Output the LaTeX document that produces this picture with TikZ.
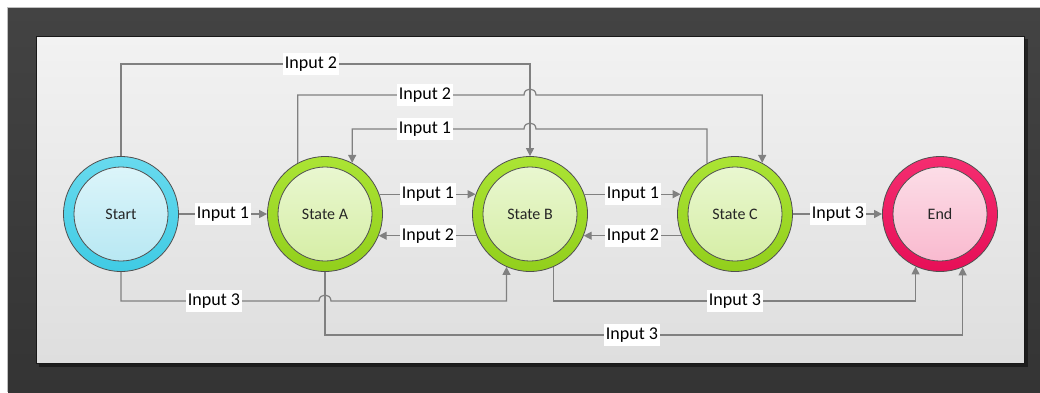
\documentclass[tikz,border=0pt]{standalone}
\usepackage{fontspec}
\setmainfont{Carlito}
\usetikzlibrary{arrows.meta}

\definecolor{frameT}{HTML}{434343}
\definecolor{frameB}{HTML}{343434}
\definecolor{panelT}{HTML}{F2F2F2}
\definecolor{panelB}{HTML}{DEDEDE}
\definecolor{wire}{HTML}{808080}
\definecolor{rim}{HTML}{505050}
\definecolor{cyanT}{HTML}{68DAEE}
\definecolor{cyanB}{HTML}{40CBE4}
\definecolor{cyanInT}{HTML}{DCF5FA}
\definecolor{cyanInB}{HTML}{B8E8F3}
\definecolor{greenT}{HTML}{ABE434}
\definecolor{greenB}{HTML}{92CF1C}
\definecolor{greenInT}{HTML}{E9F7D0}
\definecolor{greenInB}{HTML}{D6EEA6}
\definecolor{redT}{HTML}{F52D70}
\definecolor{redB}{HTML}{E60F57}
\definecolor{pinkInT}{HTML}{FCDDE7}
\definecolor{pinkInB}{HTML}{F9BACF}

\tikzset{
  ring/.style={circle, draw=rim, line width=0.8pt, minimum size=115pt, inner sep=0pt},
  core/.style={circle, draw=rim, line width=0.8pt, minimum size=94pt, inner sep=0pt,
    font=\fontsize{16}{19}\selectfont, text=black!85},
  wire/.style={draw=wire, line width=1.2pt},
  arr/.style={wire, -{Triangle[length=8pt,width=8pt]}},
  lbl/.style={fill=white, inner xsep=1.5pt, inner ysep=2.5pt, text height=13.5pt,
    text depth=4pt, font=\fontsize{18}{21}\selectfont, text=black}
}

% a state: outer coloured ring with a lighter disc carrying the name
\newcommand\fsmstate[7]{%
  \node[ring, top color=#4, bottom color=#5] (#1) at (#2,214) {};
  \node[core, top color=#6, bottom color=#7] (#1-core) at (#1.center) {#3};
}

\begin{document}
\begin{tikzpicture}[x=1pt, y=-1pt]
  \useasboundingbox (0,0) rectangle (1040,392);
  \fill[white] (0,0) rectangle (1040,392);
  % dark frame and light panel
  \shade[top color=frameT, bottom color=frameB] (8,8) rectangle (1040,392);
  \draw[black!25, line width=0.8pt] (7.5,392) -- (7.5,7.5) -- (1040,7.5);
  \fill[black, opacity=0.45] (39,39) rectangle (1028,367);
  \shade[top color=panelT, bottom color=panelB, draw=black!90, line width=0.8pt]
    (36,36) rectangle (1024,363);

  % states
  \fsmstate{Start}{121}{Start}{cyanT}{cyanB}{cyanInT}{cyanInB}
  \fsmstate{A}{325}{State A}{greenT}{greenB}{greenInT}{greenInB}
  \fsmstate{B}{530}{State B}{greenT}{greenB}{greenInT}{greenInB}
  \fsmstate{C}{735}{State C}{greenT}{greenB}{greenInT}{greenInB}
  \fsmstate{End}{940}{End}{redT}{redB}{pinkInT}{pinkInB}

  % straight transitions
  \draw[arr] (Start.east) -- (A.west);
  \draw[arr] (A.20) -- (B.160);
  \draw[arr] (B.202) -- (A.338);
  \draw[arr] (B.20) -- (C.160);
  \draw[arr] (C.202) -- (B.338);
  \draw[arr] (C.east) -- (End.west);

  % routed transitions above the states
  \draw[arr] (Start.north) -- (Start.north |- 0,64) -- (B.north |- 0,64) -- (B.north);
  \draw[arr] (A.118) -- (A.118 |- 0,95) -- (524,95)
    .. controls (524,87) and (536,87) .. (536,95) -- (C.62 |- 0,95) -- (C.62);
  \draw[arr] (C.119) -- (C.119 |- 0,129) -- (536,129)
    .. controls (536,121) and (524,121) .. (524,129) -- (A.62 |- 0,129) -- (A.62);

  % routed transitions below the states
  \draw[arr] (Start.south) -- (Start.south |- 0,301) -- (319,301)
    .. controls (319,293) and (331,293) .. (331,301) -- (B.246 |- 0,301) -- (B.246);
  \draw[arr] (B.294) -- (B.294 |- 0,301) -- (End.245 |- 0,301) -- (End.245);
  \draw[arr] (A.south) -- (A.south |- 0,335) -- (End.293 |- 0,335) -- (End.293);

  % transition labels
  \node[lbl] (l1) at (223,214) {Input 1};
  \node[lbl] (l2) at (428,194) {Input 1};
  \node[lbl] (l3) at (428,236) {Input 2};
  \node[lbl] (l4) at (633,194) {Input 1};
  \node[lbl] (l5) at (633,236) {Input 2};
  \node[lbl] (l6) at (838,214) {Input 3};
  \node[lbl] (l7) at (311,64) {Input 2};
  \node[lbl] (l8) at (425,95) {Input 2};
  \node[lbl] (l9) at (425,129) {Input 1};
  \node[lbl] (l10) at (214,301) {Input 3};
  \node[lbl] (l11) at (735,301) {Input 3};
  \node[lbl] (l12) at (632,335) {Input 3};
\end{tikzpicture}
\end{document}
